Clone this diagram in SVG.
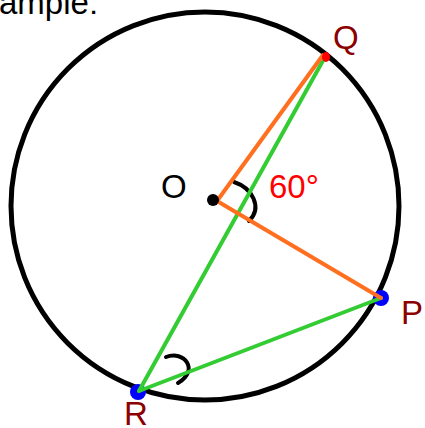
<svg xmlns="http://www.w3.org/2000/svg" width="425" height="428" viewBox="0 0 425 428">
<style>
.lbl{font-family:"Liberation Sans",Arial,sans-serif;font-size:33px}
.pt{fill:#8B0000}
.seg{fill:none;stroke-width:4;stroke-linecap:round}
.or{stroke:#FF6F1F}
.gr{stroke:#33CC33}
.mark{fill:none;stroke:#000;stroke-width:4;stroke-linecap:round}
</style>
<rect width="425" height="428" fill="#fff"/>
<text class="lbl" x="-1" y="14" fill="#000" font-size="31">ample:</text>
<g id="circle"><circle cx="205" cy="206" r="194" fill="none" stroke="#000" stroke-width="5"/></g>
<g id="markers">
<path class="mark" d="M234,182 C252,188 263,207 249,221"/>
<path class="mark" d="M166,357 C184,350 200,370 178,383"/>
</g>
<g id="nodeR"><circle cx="138" cy="392" r="8" fill="#0000FF"/><text class="lbl pt" x="124" y="425">R</text></g>
<g id="nodeP"><circle cx="381" cy="298" r="8" fill="#0000FF"/><text class="lbl pt" x="401" y="324">P</text></g>
<g id="nodeQ"><text class="lbl pt" x="333" y="49">Q</text></g>
<g id="connectors">
<line class="seg gr" x1="139" y1="391" x2="325" y2="57"/>
<line class="seg gr" x1="139" y1="391" x2="381" y2="298"/>
<line class="seg or" x1="217" y1="201" x2="323" y2="55"/>
<line class="seg or" x1="217" y1="201" x2="381" y2="298"/>
</g>
<g id="nodeQdot"><ellipse cx="326" cy="57" rx="4" ry="5" fill="#FF0000"/></g>
<g id="nodeO"><circle cx="213" cy="200" r="6" fill="#000"/><text class="lbl" x="161" y="198" fill="#000">O</text></g>
<g id="angle"><text class="lbl" x="269" y="198" fill="#FF0000">60°</text></g>
</svg>
